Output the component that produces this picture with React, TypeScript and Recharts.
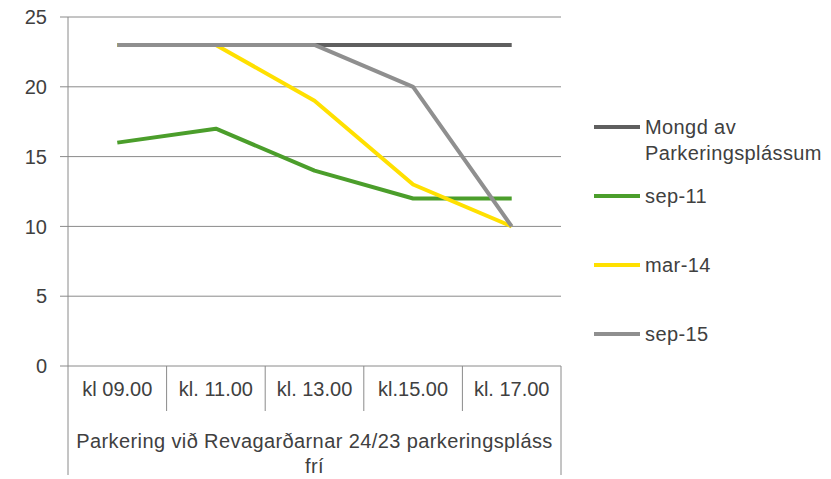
import React from 'react';
import { CartesianGrid, Line, LineChart, XAxis, YAxis } from 'recharts';

const categories = ['kl 09.00', 'kl. 11.00', 'kl. 13.00', 'kl.15.00', 'kl. 17.00'];
const mongd = [23, 23, 23, 23, 23];
const sep11 = [16, 17, 14, 12, 12];
const mar14 = [23, 23, 19, 13, 10];
const sep15 = [23, 23, 23, 20, 10];
const yTicks = [0, 5, 10, 15, 20, 25];
const groupLabel = ['Parkering við Revagarðarnar 24/23 parkeringspláss', 'frí'];

const series = [
  { key: 'mongd', name: 'Mongd av Parkeringsplássum', color: '#5f5f5f', values: mongd },
  { key: 'sep11', name: 'sep-11', color: '#4b9e2b', values: sep11 },
  { key: 'mar14', name: 'mar-14', color: '#ffe000', values: mar14 },
  { key: 'sep15', name: 'sep-15', color: '#8f8f8f', values: sep15 },
];

const data = categories.map((name, i) => {
  const row: Record<string, string | number> = { name };
  series.forEach((s) => {
    row[s.key] = s.values[i];
  });
  return row;
});

const W = 831;
const H = 479;
const margin = { top: 17, right: 270, left: 8, bottom: 4 };
const Y_AXIS_W = 60;
const X_AXIS_H = 109;
const BAND = (W - margin.left - margin.right - Y_AXIS_W) / categories.length;
const HALF = BAND / 2;
const GRID = '#8a8a8a';
const TEXT = '#404040';
const FONT = '"Liberation Sans", Arial, sans-serif';
const FS = 20;

const CategoryTick = (props: any) => {
  const { x, y, payload, index } = props;
  const last = index === categories.length - 1;
  return (
    <g>
      <line x1={x - HALF} x2={x - HALF} y1={y} y2={y + (index === 0 ? X_AXIS_H : 45)} stroke={GRID} />
      {last && <line x1={x + HALF} x2={x + HALF} y1={y} y2={y + X_AXIS_H} stroke={GRID} />}
      <text x={x} y={y + 23} textAnchor="middle" dominantBaseline="central" fill={TEXT} fontSize={FS} fontFamily={FONT}>
        {payload.value}
      </text>
      {index === 0 &&
        groupLabel.map((t, i) => (
          <text
            key={t}
            x={x + HALF * (categories.length - 1)}
            y={y + 75 + i * 25}
            textAnchor="middle"
            dominantBaseline="central"
            fill={TEXT}
            fontSize={FS}
            fontFamily={FONT}
            letterSpacing={0.4}
          >
            {t}
          </text>
        ))}
    </g>
  );
};

const ChartLegend = () => (
  <div
    style={{
      position: 'absolute',
      left: 594,
      top: 114,
      width: 237,
      fontFamily: FONT,
      fontSize: FS,
      color: TEXT,
      letterSpacing: 0.4,
    }}
  >
    {series.map((s) => (
      <div key={s.key} style={{ display: 'flex', alignItems: 'flex-start', height: 69 }}>
        <div style={{ width: 46, height: 4, background: s.color, marginTop: 11, marginRight: 5, flexShrink: 0 }} />
        <div style={{ width: 184, lineHeight: '26px' }}>{s.name}</div>
      </div>
    ))}
  </div>
);

export default function App() {
  return (
    <div style={{ position: 'absolute', left: 0, top: 0, width: W, height: H, background: '#fff' }}>
      <LineChart width={W} height={H} data={data} margin={margin}>
        <CartesianGrid vertical={false} stroke={GRID} />
        <XAxis
          dataKey="name"
          height={X_AXIS_H}
          padding={{ left: HALF, right: HALF }}
          axisLine={false}
          tickLine={false}
          tickSize={0}
          tickMargin={0}
          interval={0}
          tick={<CategoryTick />}
        />
        <YAxis
          width={Y_AXIS_W}
          domain={[0, 25]}
          ticks={yTicks}
          interval={0}
          axisLine={{ stroke: GRID }}
          tickLine={{ stroke: GRID }}
          tickSize={8}
          tickMargin={13}
          tick={{ fill: TEXT, fontSize: FS, fontFamily: FONT }}
        />
        {series.map((s) => (
          <Line
            key={s.key}
            dataKey={s.key}
            name={s.name}
            stroke={s.color}
            strokeWidth={4}
            dot={false}
            activeDot={false}
            strokeLinejoin="round"
            isAnimationActive={false}
          />
        ))}
      </LineChart>
      <ChartLegend />
    </div>
  );
}
